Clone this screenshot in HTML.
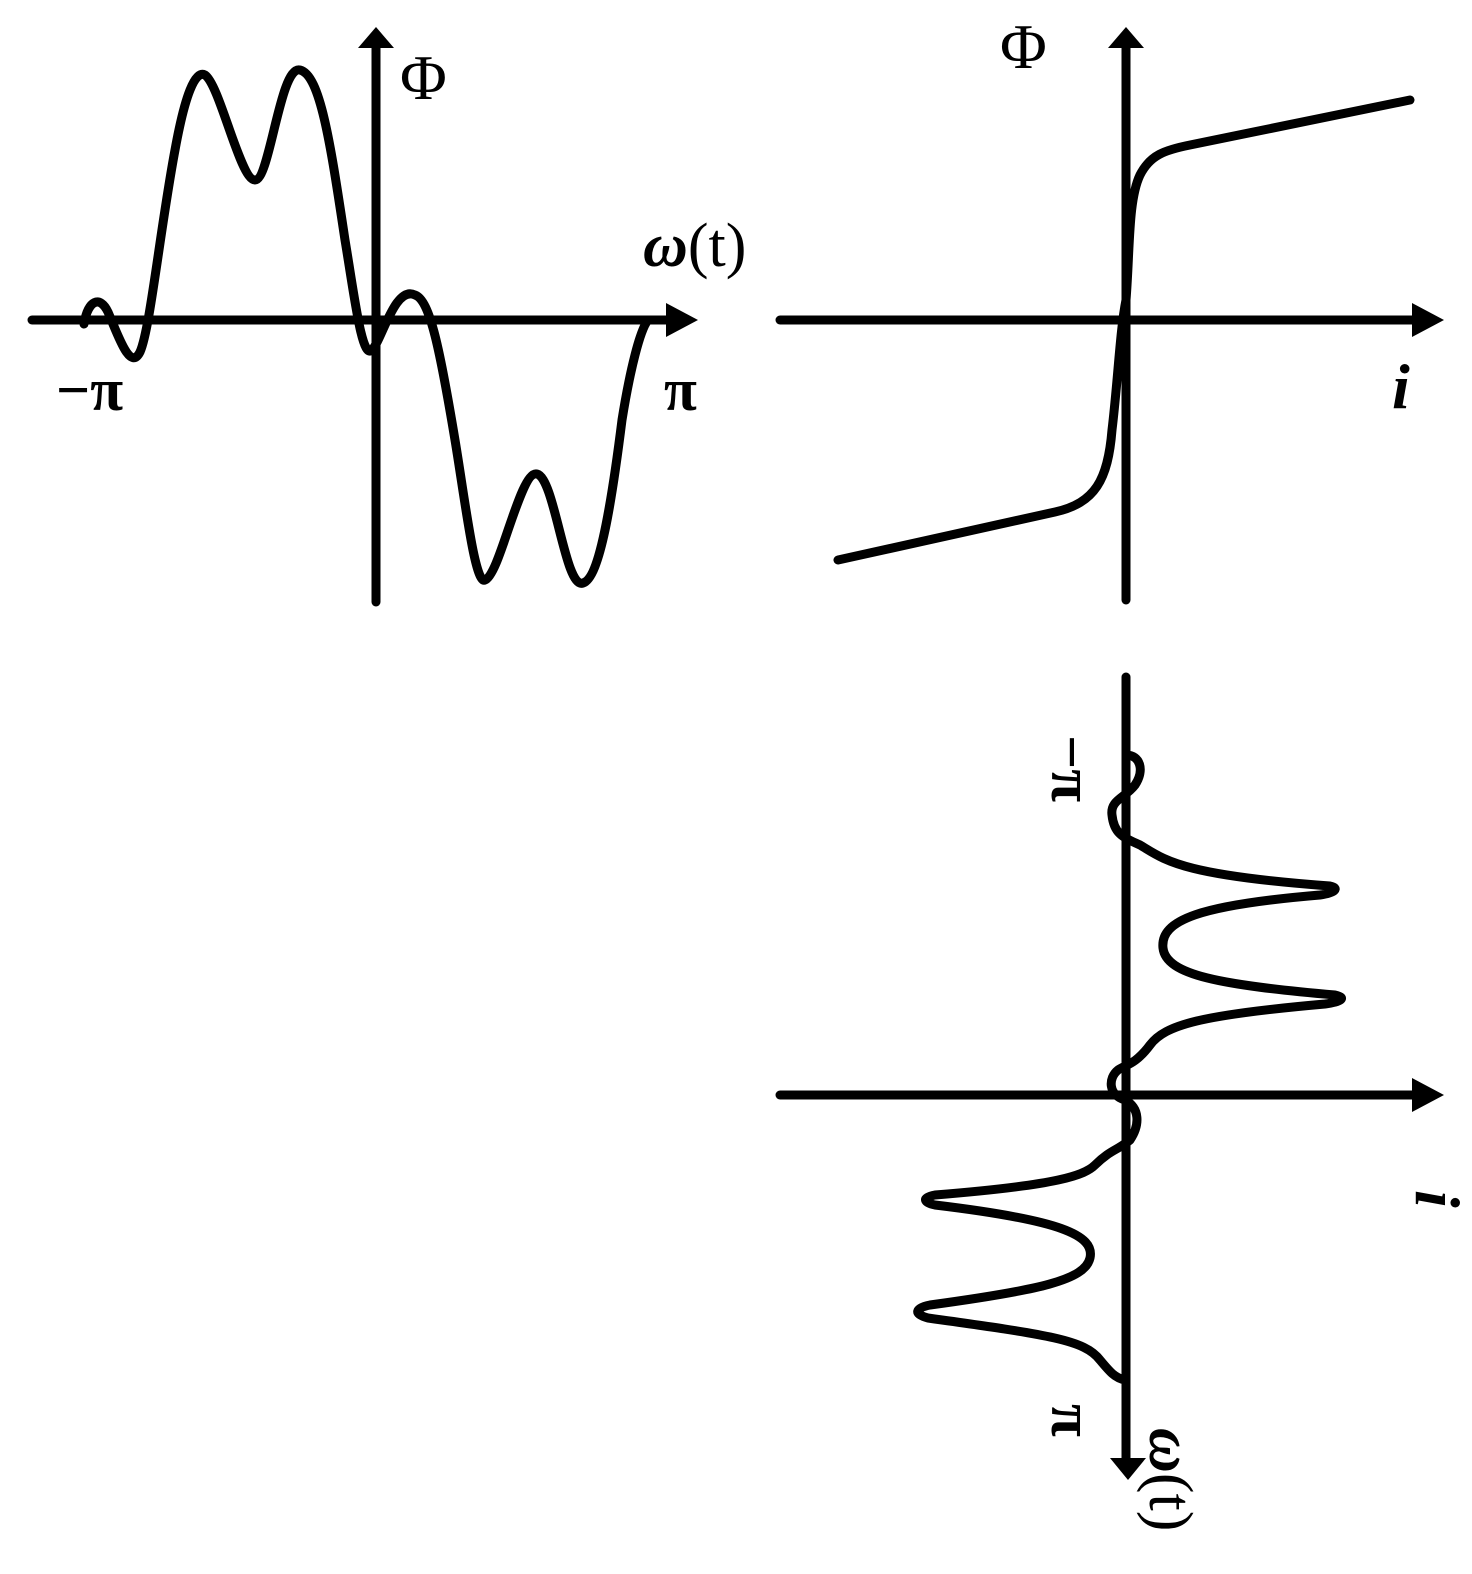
<!DOCTYPE html>
<html><head><meta charset="utf-8"><style>html,body{margin:0;padding:0;background:#fff}svg{display:block}</style></head>
<body>
<svg width="1472" height="1574" viewBox="0 0 1472 1574" xmlns="http://www.w3.org/2000/svg">
<g stroke="#000" stroke-width="9" fill="none" stroke-linecap="round" stroke-linejoin="round">
<line x1="32" y1="320" x2="672" y2="320"/>
<line x1="376" y1="602" x2="376" y2="44"/>
<path d="M84,324 C88,300 100,295 108,312 C118,335 130,372 140,352 C150,330 160,230 175,150 C185,95 195,70 205,75 C220,85 240,180 255,180 C270,180 280,65 300,70 C320,75 330,140 345,240 C355,300 362,360 372,350 C382,340 395,285 415,295 C430,300 440,350 455,440 C465,500 475,585 485,580 C500,575 520,470 537,474 C555,478 565,590 583,583 C600,578 612,500 622,420 C630,370 640,330 648,320"/>
<line x1="780" y1="320" x2="1420" y2="320"/>
<line x1="1126" y1="600" x2="1126" y2="44"/>
<path d="M838,560 L1055,512 C1095,503 1108,480 1112,430 C1118,380 1120,330 1126,300 C1130,250 1128,200 1140,175 C1150,155 1165,150 1190,145 L1410,100"/>
<line x1="780" y1="1095" x2="1420" y2="1095"/>
<line x1="1126" y1="677" x2="1126" y2="1458"/>
<path d="M1126,755 C1140,755 1145,770 1135,785 C1125,798 1110,800 1112,815 C1114,835 1125,838 1140,845 C1165,860 1180,875 1330,886 C1340,888 1335,893 1320,895 C1200,905 1160,920 1163,948 C1166,975 1220,985 1335,995 C1348,998 1340,1002 1325,1004 C1200,1015 1165,1025 1150,1045 C1135,1065 1125,1065 1118,1070 C1108,1078 1108,1095 1125,1100 C1140,1108 1140,1125 1130,1140 C1118,1150 1110,1150 1095,1165 C1085,1175 1060,1185 935,1195 C920,1198 925,1203 935,1205 C1060,1220 1095,1235 1090,1258 C1085,1280 1040,1290 930,1305 C915,1308 913,1314 928,1318 C1050,1335 1085,1340 1100,1360 C1110,1372 1115,1378 1125,1380"/>
</g>
<g fill="#000">
<polygon points="698,320 666,303 666,337"/>
<polygon points="376,27 358,48 394,48"/>
<polygon points="1444,320 1412,303 1412,337"/>
<polygon points="1126,27 1108,48 1144,48"/>
<polygon points="1444,1095 1412,1078 1412,1112"/>
<polygon points="1128,1480 1110,1458 1146,1458"/>
</g>
<g font-family="Liberation Serif, serif" fill="#000">
<text x="400" y="99" font-size="64">Φ</text>
<text x="1000" y="68" font-size="64">Φ</text>
<text x="643" y="266" font-size="62"><tspan font-style="italic" font-weight="bold">ω</tspan>(t)</text>
<text x="56" y="410" font-size="60" font-weight="bold">−π</text>
<text x="664" y="410" font-size="60" font-weight="bold">π</text>
<text x="1392" y="408" font-size="64" font-style="italic" font-weight="bold">i</text>
<text transform="translate(1052,735) rotate(90)" font-size="60" font-weight="bold">−π</text>
<text transform="translate(1052,1404) rotate(90)" font-size="60" font-weight="bold">π</text>
<text transform="translate(1416,1190) rotate(90)" font-size="64" font-style="italic" font-weight="bold">i</text>
<text transform="translate(1150,1428) rotate(90)" font-size="62"><tspan font-style="italic" font-weight="bold">ω</tspan>(t)</text>
</g>
</svg>
</body></html>
